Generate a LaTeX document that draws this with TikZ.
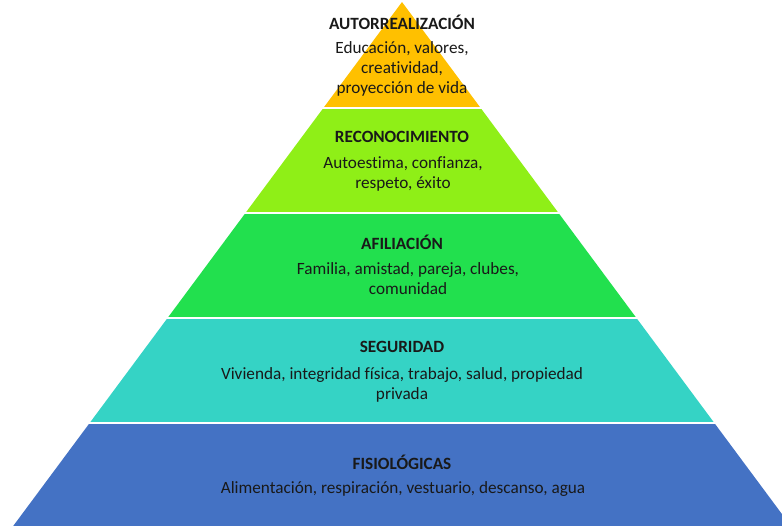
\documentclass[tikz,border=0pt]{standalone}
\usepackage{fontspec}
\setmainfont{Carlito}[Ligatures=NoCommon]
\definecolor{cTop}{HTML}{FFC000}
\definecolor{cRec}{HTML}{8FEF17}
\definecolor{cAfi}{HTML}{22E04E}
\definecolor{cSeg}{HTML}{35D3C5}
\definecolor{cFis}{HTML}{4472C4}
\tikzset{
  ttl/.style={font=\fontsize{17.2}{20}\selectfont\bfseries, inner sep=0pt, text=black!90},
  bdy/.style={font=\fontsize{17.2}{20}\selectfont, align=center, inner sep=0pt, text=black!90},
  gap/.style={draw=white, line width=2pt}
}
\begin{document}
\begin{tikzpicture}[x=1pt,y=-1pt]
\useasboundingbox (0,0) rectangle (782,525);
\begin{scope}
\clip (0,0) rectangle (782,525);
\fill[cTop] (402,2) -- (324.1,107) -- (479.9,107) -- cycle;
\fill[cRec] (324.1,107) -- (246.2,212) -- (557.8,212) -- (479.9,107) -- cycle;
\fill[cAfi] (246.2,212) -- (168.3,317) -- (635.7,317) -- (557.8,212) -- cycle;
\fill[cSeg] (168.3,317) -- (90.4,422) -- (713.6,422) -- (635.7,317) -- cycle;
\fill[cFis] (90.4,422) -- (2.8,540) -- (801.2,540) -- (713.6,422) -- cycle;
\draw[gap] (300,107.5) -- (500,107.5);
\draw[gap] (220,212.5) -- (580,212.5);
\draw[gap] (140,317.5) -- (660,317.5);
\draw[gap] (60,422.5) -- (740,422.5);
\end{scope}
\node[ttl] (t1) at (402,22) {AUTORREALIZACIÓN};
\node[bdy] (b1) at (402,69) {Educación, valores,\\creatividad,\\proyección de vida};
\node[ttl] (t2) at (402,137) {RECONOCIMIENTO};
\node[bdy] (b2) at (403,174) {Autoestima, confianza,\\respeto, éxito};
\node[ttl] (t3) at (402,242) {AFILIACIÓN};
\node[bdy] (b3) at (408,279) {Familia, amistad, pareja, clubes,\\comunidad};
\node[ttl] (t4) at (402,347) {SEGURIDAD};
\node[bdy] (b4) at (402,384.5) {Vivienda, integridad física, trabajo, salud, propiedad\\privada};
\node[ttl] (t5) at (402,462) {FISIOLÓGICAS};
\node[bdy] (b5) at (403,489) {Alimentación, respiración, vestuario, descanso, agua};
\end{tikzpicture}
\end{document}
